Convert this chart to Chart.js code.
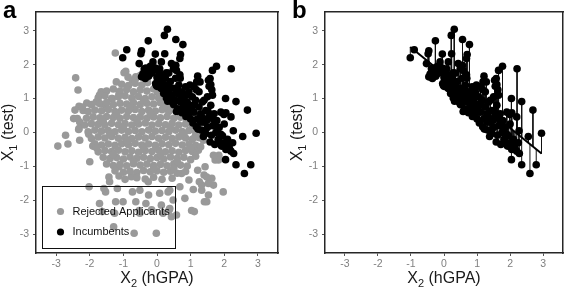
<!DOCTYPE html>
<html>
<head>
<meta charset="utf-8">
<script src="https://cdn.jsdelivr.net/npm/chart.js@4.4.1/dist/chart.umd.min.js"></script>
<style>
  body { margin: 0; background: #fff; }
  #wrap { position: relative; width: 567px; height: 290px; }
  canvas { position: absolute; top: 0; }
  .overlay { pointer-events: none; z-index: 2; }
</style>
</head>
<body>
<div id="wrap">
  <canvas id="chartA" width="289" height="290" style="left:0"></canvas>
  <canvas id="chartB" width="278" height="290" style="left:289px"></canvas>
  <canvas id="overA" class="overlay" width="289" height="290" style="left:0"></canvas>
  <canvas id="overB" class="overlay" width="278" height="290" style="left:289px"></canvas>
</div>
<script>
// ---- data ----
const tickValues = [-3, -2, -1, 0, 1, 2, 3];
const legendLabels = ['Rejected Applicants', 'Incumbents'];
const panelLetters = ['a', 'b'];

// incumbents: [X2 (hGPA), X1 (test)]
const incumbents = [
  [0.31,3.04],[0.22,2.86],[0.56,2.74],[0.77,2.59],[-0.26,2.70],[-0.90,2.44],[-1.02,2.20],
  [-0.46,2.41],[-0.48,2.32],[-0.05,2.31],[0.23,2.32],[0.70,2.30],[0.68,2.18],[-0.53,2.03],
  [-0.12,2.08],[0.13,2.08],[0.43,2.03],[0.58,1.83],[0.28,1.76],[-0.33,1.90],[-0.13,1.85],
  [0.08,1.88],[0.49,1.88],[0.56,1.98],
  [1.77,1.95],[1.65,1.83],[2.21,1.88],[1.21,1.66],[1.53,1.54],[1.55,1.36],[1.18,1.49],
  [1.28,1.49],[1.58,1.59],[1.60,1.41],[1.63,1.26],[1.17,1.26],[0.69,1.60],[-0.35,1.59],
  [-0.46,1.64],[-0.02,1.39],[0.00,1.36],[-0.04,1.44],[0.18,1.26],[2.04,1.00],[2.35,0.91],
  [1.99,0.53],[2.05,0.58],[2.20,0.46],[2.69,0.66],[2.27,0.05],[2.95,-0.02],[2.55,-0.12],
  [2.07,-0.42],[2.28,-0.62],[2.04,-0.80],[2.35,-0.95],[2.79,-0.95],[2.60,-1.21],
  [-0.42,1.72],[-0.38,1.88],[-0.30,1.80],[-0.20,1.95],[-0.15,1.75],[-0.05,1.90],[0.00,1.62],
  [0.05,1.78],[-0.25,1.66],[0.10,1.50],[0.15,1.70],[0.25,1.60],[0.30,1.40],[0.35,1.75],
  [0.12,1.30],[0.20,1.15],[0.28,1.02],[0.35,1.20],[0.40,0.95],[0.40,1.50],[0.05,1.45],
  [0.32,0.92],[0.45,1.10],[0.50,0.82],[0.50,1.30],[0.55,0.95],[0.60,1.15],[0.62,0.70],
  [0.65,1.40],[0.70,0.90],[0.74,0.58],[0.75,1.20],[0.78,0.75],[0.80,1.05],[0.55,1.60],
  [0.68,1.70],[0.47,0.88],[0.85,1.35],[0.86,0.47],[0.90,0.90],[0.92,0.65],[0.95,1.20],
  [1.00,0.40],[1.00,0.80],[1.05,1.05],[1.07,0.28],[1.10,0.60],[1.15,0.95],[1.17,0.17],
  [1.20,0.40],[1.25,0.75],[1.25,1.20],[1.32,0.07],[1.30,0.55],[0.98,1.40],[1.10,1.35],
  [1.35,0.90],[1.38,-0.12],[1.40,0.30],[1.45,0.65],[1.45,-0.03],[1.50,0.15],[1.50,1.05],
  [1.55,0.45],[1.58,-0.28],[1.60,0.80],[1.62,-0.08],[1.65,0.20],[1.72,-0.35],[1.70,0.55],
  [1.75,0.00],[1.78,0.35],[1.82,-0.20],[1.40,0.95],[1.65,1.10],[1.85,0.15],[1.92,-0.40],
  [1.90,0.60],[1.95,-0.10],[2.00,0.25],[2.05,-0.50],[2.10,-0.20],[2.15,-0.45],[2.20,-0.55],
  [2.25,-0.30],[1.87,-0.30],[2.00,-0.30],
  [0.62,1.25],[0.88,1.10],[0.72,1.02],[0.95,0.55],[1.12,0.82],[1.30,0.30],[1.52,0.62],
  [1.68,0.38],[0.40,1.32],[0.58,0.62],[0.82,0.60],[1.22,0.10],[1.48,0.35],[1.90,-0.05],
  [0.25,1.22],[0.18,1.42],[0.85,0.82],[1.05,0.65],[1.35,0.45],[1.75,0.18],[2.12,-0.35]
];

// rejected applicants: [X2 (hGPA), X1 (test)]
const rejected = [
  [-1.24,2.34],[-0.93,1.80],[-0.98,1.76],[-2.42,1.61],[-2.35,1.25],[-1.21,1.49],[-1.66,1.20],
  [-1.71,1.10],[-1.81,0.90],[-2.09,0.87],[-2.32,0.77],[-2.20,0.65],[-2.48,0.41],[-2.30,0.31],
  [-2.33,0.09],[-2.72,-0.08],[-2.65,-0.34],[-2.95,-0.40],[-2.30,-0.23],[-2.03,-0.05],[-1.91,-0.40],
  [-2.00,-0.86],[-2.02,-1.60],[-1.53,-1.75],[-1.58,-1.65],[-1.18,-1.65],[-1.71,-2.09],[-1.63,-2.33],
  [-1.01,-2.04],[-1.23,-2.04],[-1.26,-2.38],[-0.68,-2.97],[-0.02,-2.97],[-1.29,-2.78],[-0.51,-2.38],
  [-0.53,-2.30],[-0.63,-2.04],[-0.73,-1.75],[-0.25,-1.84],[-0.33,-2.09],[-0.16,-2.28],[0.18,-2.38],
  [0.43,-2.48],[0.36,-2.28],[0.58,-2.43],[0.13,-2.14],[0.33,-1.75],[0.48,-1.99],[0.38,-2.24],
  [1.03,-2.30],[1.11,-2.33],[1.41,-2.04],[1.48,-2.04],[1.53,-1.84],[1.97,-1.75],[1.33,-1.70],
  [1.33,-1.55],[1.08,-1.68],[1.68,-1.55],[1.53,-1.50],[1.26,-1.45],[1.40,-1.25],[1.63,-1.35],
  [1.48,-1.31],[1.21,-1.11],[1.43,-1.01],[1.83,-0.81],[1.73,-0.81],[1.84,-0.67],[1.68,-0.67],
  [1.23,-0.52],[1.38,-0.23],[1.13,-0.13],[0.73,-1.21],[-1.13,-1.01],[-1.43,-1.31],
  [-1.41,-1.45],[-1.13,-1.28],[-0.76,-1.30],[-0.51,-1.70],[-0.26,-1.45],[0.08,-1.79],[0.38,-1.70],
  [0.68,-1.60],[0.83,-1.94],[-0.73,1.54],[-0.63,1.64],[-0.43,1.74],[-1.53,0.80],[-2.22,0.75],
  [-2.44,0.66],[-2.37,0.41],[-2.32,0.12],[-1.33,1.00],[-1.13,1.15],
  [-0.86,1.63],[-0.64,1.58],[-0.50,1.68],
  [-1.05,1.42],[-0.85,1.38],[-0.65,1.45],[-0.45,1.40],[-0.28,1.47],
  [-1.50,1.22],[-1.30,1.28],[-1.10,1.22],[-0.90,1.27],[-0.70,1.20],[-0.50,1.25],[-0.30,1.22],
  [-0.10,1.28],[0.02,1.18],
  [-1.75,1.02],[-1.55,1.08],[-1.35,1.00],[-1.15,1.05],[-0.95,1.08],[-0.75,1.02],[-0.55,1.06],
  [-0.35,1.00],[-0.15,1.05],[0.05,1.02],[0.20,0.98],
  [-1.95,0.82],[-1.70,0.85],[-1.50,0.88],[-1.30,0.82],[-1.10,0.86],[-0.90,0.84],[-0.70,0.88],
  [-0.50,0.82],[-0.30,0.86],[-0.10,0.84],[0.10,0.88],[0.30,0.82],[0.42,0.80],
  [-2.05,0.62],[-1.85,0.66],[-1.65,0.64],[-1.45,0.68],[-1.25,0.62],[-1.05,0.66],[-0.85,0.64],
  [-0.65,0.68],[-0.45,0.62],[-0.25,0.66],[-0.05,0.63],[0.15,0.67],[0.35,0.62],[0.55,0.65],[0.68,0.58],
  [-2.10,0.42],[-1.90,0.46],[-1.70,0.43],[-1.50,0.47],[-1.30,0.44],[-1.10,0.42],[-0.90,0.47],
  [-0.70,0.44],[-0.50,0.46],[-0.30,0.42],[-0.10,0.46],[0.10,0.43],[0.30,0.47],[0.50,0.42],
  [0.70,0.45],[0.88,0.40],
  [-2.15,0.22],[-1.95,0.26],[-1.75,0.24],[-1.55,0.22],[-1.35,0.27],[-1.15,0.23],[-0.95,0.26],
  [-0.75,0.22],[-0.55,0.25],[-0.35,0.28],[-0.15,0.22],[0.05,0.26],[0.25,0.23],[0.45,0.27],
  [0.65,0.22],[0.85,0.25],[1.05,0.20],
  [-2.05,0.02],[-1.85,0.07],[-1.65,0.04],[-1.45,0.06],[-1.25,0.02],[-1.05,0.07],[-0.85,0.03],
  [-0.65,0.06],[-0.45,0.02],[-0.25,0.07],[-0.05,0.04],[0.15,0.06],[0.35,0.02],[0.55,0.07],
  [0.75,0.03],[0.95,0.06],[1.15,0.02],[1.30,0.00],
  [-1.95,-0.18],[-1.75,-0.13],[-1.55,-0.16],[-1.35,-0.12],[-1.15,-0.17],[-0.95,-0.14],[-0.75,-0.18],
  [-0.55,-0.13],[-0.35,-0.16],[-0.15,-0.12],[0.05,-0.17],[0.25,-0.14],[0.45,-0.18],[0.65,-0.13],
  [0.85,-0.16],[1.05,-0.20],[1.25,-0.15],
  [-1.85,-0.33],[-1.65,-0.37],[-1.45,-0.34],[-1.25,-0.38],[-1.05,-0.33],[-0.85,-0.36],[-0.65,-0.32],
  [-0.45,-0.37],[-0.25,-0.34],[-0.05,-0.38],[0.15,-0.33],[0.35,-0.36],[0.55,-0.32],[0.75,-0.37],
  [0.95,-0.34],[1.15,-0.38],[1.30,-0.42],
  [-1.75,-0.57],[-1.55,-0.53],[-1.35,-0.56],[-1.15,-0.52],[-0.95,-0.57],[-0.75,-0.54],[-0.55,-0.58],
  [-0.35,-0.53],[-0.15,-0.56],[0.05,-0.52],[0.25,-0.57],[0.45,-0.54],[0.65,-0.58],[0.85,-0.53],[1.05,-0.56],
  [-1.60,-0.73],[-1.40,-0.77],[-1.20,-0.74],[-1.00,-0.78],[-0.80,-0.72],[-0.60,-0.76],[-0.40,-0.73],
  [-0.20,-0.77],[0.00,-0.74],[0.20,-0.78],[0.40,-0.72],[0.60,-0.76],[0.80,-0.73],[1.00,-0.80],[1.15,-0.70],
  [-1.50,-0.93],[-1.30,-0.97],[-1.10,-0.94],[-0.90,-0.98],[-0.70,-0.92],[-0.50,-0.96],[-0.30,-0.93],
  [-0.10,-0.97],[0.10,-0.94],[0.30,-0.98],[0.50,-0.92],[0.70,-0.96],[0.90,-0.99],
  [-1.25,-1.13],[-1.00,-1.17],[-0.80,-1.14],[-0.60,-1.18],[-0.40,-1.12],[-0.20,-1.16],[0.00,-1.13],
  [0.20,-1.17],[0.40,-1.14],[0.60,-1.20],[0.85,-1.15],
  [-0.95,-1.38],[-0.60,-1.33],[-0.35,-1.37],[-0.10,-1.32],[0.15,-1.38],[0.45,-1.35],[0.95,-1.40],
  [-1.60,0.33],[-1.20,0.55],[-0.80,0.75],[-0.40,0.95],[-1.00,0.15],[-0.60,0.35],[-0.20,0.55],
  [0.20,0.75],[-1.40,-0.05],[-0.90,-0.25],[-0.40,-0.45],[0.10,-0.65],[0.60,-0.85],[-1.30,-0.65],
  [-0.70,-0.85],[-0.10,-1.05],[0.50,-1.05],[0.40,0.12],[0.80,-0.05],[1.00,-0.45],[-1.80,-0.45]
];

// regression line of X1 on X2 among incumbents (panel b), end points
const fitX = [-1.02, 2.95];
const fitY = [2.52, -0.62];

// ---- helpers ----
Chart.defaults.font.family = "'Liberation Sans', Arial, sans-serif";
const toPts = arr => arr.map(([x, y]) => ({ x, y }));
const fitSlope = (fitY[1] - fitY[0]) / (fitX[1] - fitX[0]);
const fitAt = x => fitY[0] + fitSlope * (x - fitX[0]);
const residualSegs = [];
incumbents.forEach(([x, y]) => {
  residualSegs.push({ x, y }, { x, y: fitAt(x) }, { x, y: null });
});

function drawSubTitle(ctx, base, sub, rest, cx, cy) {
  ctx.font = "16px 'Liberation Sans', Arial, sans-serif";
  const w1 = ctx.measureText(base).width;
  const w3 = ctx.measureText(rest).width;
  ctx.font = "11px 'Liberation Sans', Arial, sans-serif";
  const w2 = ctx.measureText(sub).width;
  const x = cx - (w1 + w2 + w3) / 2;
  ctx.textAlign = 'left';
  ctx.textBaseline = 'middle';
  ctx.font = "16px 'Liberation Sans', Arial, sans-serif";
  ctx.fillText(base, x, cy);
  ctx.font = "11px 'Liberation Sans', Arial, sans-serif";
  ctx.fillText(sub, x + w1, cy + 5);
  ctx.font = "16px 'Liberation Sans', Arial, sans-serif";
  ctx.fillText(rest, x + w1 + w2, cy);
}

// titles, panel letter and legend, laid over the chart
function decorate(chart, canvasId, letter, withLegend) {
  const ctx = document.getElementById(canvasId).getContext('2d');
  const a = chart.chartArea;
  ctx.fillStyle = '#1a1a1a';
  drawSubTitle(ctx, 'X', '2', ' (hGPA)', (a.left + a.right) / 2, 279);
  ctx.save();
  ctx.translate(9, (a.top + a.bottom) / 2);
  ctx.rotate(-Math.PI / 2);
  drawSubTitle(ctx, 'X', '1', ' (test)', 0, 0);
  ctx.restore();
  ctx.fillStyle = '#000';
  ctx.font = "bold 24px 'Liberation Sans', Arial, sans-serif";
  ctx.textAlign = 'left';
  ctx.textBaseline = 'alphabetic';
  ctx.fillText(letter, 3, 18);
  if (withLegend) {
    const lx = Math.round(a.left) + 6.5, ly = Math.round(a.bottom) - 66.5;
    ctx.strokeStyle = '#111';
    ctx.lineWidth = 1;
    ctx.strokeRect(lx, ly, 133, 62);
    const colors = ['#999999', '#000000'];
    legendLabels.forEach((lab, i) => {
      const yy = ly + 25 + i * 20.5;
      ctx.fillStyle = colors[i];
      ctx.beginPath();
      ctx.arc(a.left + 24.5, yy, 3.6, 0, Math.PI * 2);
      ctx.fill();
      ctx.fillStyle = '#111';
      ctx.font = "11px 'Liberation Sans', Arial, sans-serif";
      ctx.textBaseline = 'middle';
      ctx.fillText(lab, a.left + 36.5, yy);
    });
  }
}

// main axes carry ticks; the mirrored top/right axes only draw the box edge
const frameBorder = { display: true, color: '#262626', width: 1.5 };

function axisOpts(isX) {
  return {
    type: 'linear',
    min: isX ? -3.6 : -3.55,
    max: isX ? 3.6 : 3.55,
    afterBuildTicks: s => { s.ticks = tickValues.map(v => ({ value: v })); },
    afterFit: s => { if (isX) s.height = 37; else s.width = 36; },
    grid: { display: true, drawOnChartArea: false, drawTicks: true, tickLength: 3, color: '#555555', lineWidth: 1 },
    border: frameBorder,
    ticks: {
      color: '#7f7f7f',
      padding: isX ? 2 : 4,
      maxRotation: 0,
      font: { size: 10.5 },
      callback: v => String(v)
    }
  };
}

function mirrorOpts(isX) {
  return {
    type: 'linear',
    position: isX ? 'top' : 'right',
    min: isX ? -3.6 : -3.55,
    max: isX ? 3.6 : 3.55,
    afterBuildTicks: s => { s.ticks = tickValues.map(v => ({ value: v })); },
    afterFit: s => { if (isX) s.height = 0; else s.width = 0; },
    grid: { display: false, drawTicks: false },
    border: frameBorder,
    ticks: { display: false }
  };
}

function baseOptions(rightPad) {
  return {
    responsive: false,
    animation: false,
    layout: { padding: { top: 12, right: rightPad, left: 0, bottom: 0 } },
    plugins: { legend: { display: false }, tooltip: { enabled: false } },
    scales: { x: axisOpts(true), y: axisOpts(false), x2: mirrorOpts(true), y2: mirrorOpts(false) }
  };
}

const pointStyle = { pointRadius: 3.8, pointBorderWidth: 0 };

const chartA = new Chart(document.getElementById('chartA'), {
  type: 'scatter',
  data: {
    datasets: [
      Object.assign({ label: legendLabels[1], data: toPts(incumbents), backgroundColor: '#000000', order: 0 }, pointStyle),
      Object.assign({ label: legendLabels[0], data: toPts(rejected), backgroundColor: '#999999', order: 1 }, pointStyle)
    ]
  },
  options: baseOptions(11)
});

const chartB = new Chart(document.getElementById('chartB'), {
  type: 'scatter',
  data: {
    datasets: [
      Object.assign({ label: legendLabels[1], data: toPts(incumbents), backgroundColor: '#000000', order: 0 }, pointStyle),
      {
        label: 'residuals',
        data: residualSegs,
        showLine: true,
        spanGaps: false,
        pointRadius: 0,
        borderColor: '#111111',
        borderWidth: 1,
        order: 2
      },
      {
        label: 'fit',
        data: fitX.map((x, i) => ({ x, y: fitY[i] })),
        showLine: true,
        pointRadius: 0,
        borderColor: '#000000',
        borderWidth: 2,
        order: 1
      }
    ]
  },
  options: baseOptions(2)
});

decorate(chartA, 'overA', panelLetters[0], true);
decorate(chartB, 'overB', panelLetters[1], false);
</script>
</body>
</html>
